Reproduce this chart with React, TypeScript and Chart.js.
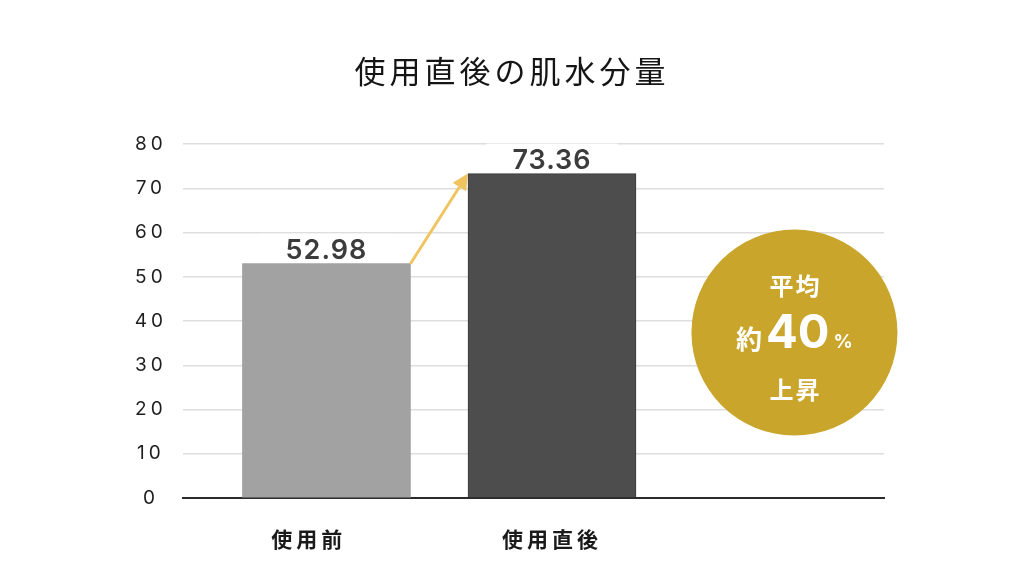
import React, { useEffect, useRef } from 'react';
import { Chart, registerables } from 'chart.js';

Chart.register(...registerables);

// data
const chartTitle = '使用直後の肌水分量';
const categories = ['使用前', '使用直後'];
const values = [52.98, 73.36];
const barColors = ['#a2a2a2', '#4d4d4d'];
const yMin = 0;
const yMax = 80;
const yStep = 10;
const badgeTop = '平均';
const badgePrefix = '約';
const badgeNumber = '40';
const badgeUnit = '%';
const badgeBottom = '上昇';

// layout (x is a linear axis so the bars sit where they do in the picture)
const X_MIN = 0.364;
const X_MAX = 3.472;
const LABEL_POS = [0.922, 2.0];
const BADGE_X = 3.075;
const BADGE_Y = 37.4;
const BADGE_R = 103;

const JP = '"Noto Sans CJK JP", "Noto Sans", sans-serif';
const NUM = 'Inter, "Noto Sans", sans-serif';

const spacing = (ctx: CanvasRenderingContext2D, v: string) => {
    (ctx as any).letterSpacing = v;
};

const decorations = {
    id: 'decorations',
    beforeDraw(chart: any) {
        // tick labels are spaced out in the reference
        spacing(chart.ctx, '4px');
    },
    afterDatasetsDraw(chart: any) {
        const ctx: CanvasRenderingContext2D = chart.ctx;
        const bars = chart.getDatasetMeta(0).data;

        // arrow from the top of the first bar to the top of the second
        if (bars.length > 1) {
            const a = bars[0];
            const b = bars[1];
            const x1 = a.x + a.width / 2;
            const y1 = a.y;
            const x2 = b.x - b.width / 2;
            const y2 = b.y;
            const ang = Math.atan2(y2 - y1, x2 - x1);
            const head = 16;
            const half = 8;
            ctx.save();
            ctx.strokeStyle = '#f1c462';
            ctx.fillStyle = '#f1c462';
            ctx.lineWidth = 3;
            ctx.beginPath();
            ctx.moveTo(x1, y1);
            ctx.lineTo(x2 - Math.cos(ang) * head, y2 - Math.sin(ang) * head);
            ctx.stroke();
            ctx.beginPath();
            ctx.moveTo(x2, y2);
            ctx.lineTo(
                x2 - Math.cos(ang) * head - Math.sin(ang) * half,
                y2 - Math.sin(ang) * head + Math.cos(ang) * half
            );
            ctx.lineTo(
                x2 - Math.cos(ang) * head + Math.sin(ang) * half,
                y2 - Math.sin(ang) * head - Math.cos(ang) * half
            );
            ctx.closePath();
            ctx.fill();
            ctx.restore();
        }

        // value labels on a white box
        ctx.save();
        spacing(ctx, '1px');
        ctx.font = `600 27px ${NUM}`;
        ctx.textAlign = 'center';
        ctx.textBaseline = 'alphabetic';
        bars.forEach((bar: any, i: number) => {
            const txt = values[i].toFixed(2);
            const w = ctx.measureText(txt).width;
            const base = bar.y - 5;
            ctx.fillStyle = '#ffffff';
            ctx.fillRect(bar.x - w / 2 - 26, base - 25, w + 52, 26);
            ctx.fillStyle = '#3c3c3c';
            ctx.fillText(txt, bar.x, base);
        });
        ctx.restore();

        // the title is drawn after this hook (z: 1)
        spacing(ctx, '8.5px');
    },
    afterDraw(chart: any) {
        const ctx: CanvasRenderingContext2D = chart.ctx;
        spacing(ctx, '0px');
        const cx = chart.scales.x.getPixelForValue(BADGE_X);
        const cy = chart.scales.y.getPixelForValue(BADGE_Y);

        ctx.save();
        ctx.fillStyle = '#c9a52b';
        ctx.beginPath();
        ctx.arc(cx, cy, BADGE_R, 0, Math.PI * 2);
        ctx.fill();

        ctx.fillStyle = '#ffffff';
        ctx.textAlign = 'center';
        ctx.textBaseline = 'middle';
        spacing(ctx, '2px');
        ctx.font = `bold 24px ${JP}`;
        ctx.fillText(badgeTop, cx + 1, cy - 47);
        ctx.fillText(badgeBottom, cx + 1, cy + 57);

        // middle row: 約 40 %
        ctx.textAlign = 'left';
        ctx.textBaseline = 'alphabetic';
        spacing(ctx, '0px');
        const fPre = `bold 26px ${JP}`;
        const fNum = `bold 47px ${NUM}`;
        const fUnit = `bold 19px ${NUM}`;
        ctx.font = fPre;
        const wPre = ctx.measureText(badgePrefix).width;
        ctx.font = fNum;
        const wNum = ctx.measureText(badgeNumber).width;
        ctx.font = fUnit;
        const wUnit = ctx.measureText(badgeUnit).width;
        const gap = 4;
        let x = cx - (wPre + wNum + wUnit + gap * 2) / 2;
        const base = cy + 15;
        ctx.font = fPre;
        ctx.fillText(badgePrefix, x, base + 1);
        x += wPre + gap;
        ctx.font = fNum;
        ctx.fillText(badgeNumber, x, base);
        x += wNum + gap;
        ctx.font = fUnit;
        ctx.fillText(badgeUnit, x, base);
        ctx.restore();
    },
};

const App: React.FC = () => {
    const canvasRef = useRef<HTMLCanvasElement>(null);

    useEffect(() => {
        if (!canvasRef.current) return;
        const ctx = canvasRef.current.getContext('2d');
        if (!ctx) return;

        const chart = new Chart(ctx, {
            type: 'bar',
            data: {
                datasets: [{
                    data: values.map((v, i) => ({ x: i + 1, y: v })),
                    backgroundColor: barColors,
                    borderColor: ['#a2a2a2', '#3a3a3a'],
                    borderWidth: [0, 1],
                    barThickness: 168,
                }],
            },
            options: {
                animation: false,
                responsive: true,
                maintainAspectRatio: false,
                layout: { padding: { top: 53, right: 0, bottom: 0, left: 0 } },
                plugins: {
                    legend: { display: false },
                    tooltip: { enabled: false },
                    title: {
                        display: true,
                        text: chartTitle,
                        color: '#151515',
                        font: { family: JP, size: 31, weight: 'normal', lineHeight: 1.2 },
                        padding: { top: 0, bottom: 54 },
                        // drawn after the datasets so it can get its own letter spacing
                        z: 1,
                    } as any,
                },
                scales: {
                    x: {
                        type: 'linear',
                        offset: false,
                        min: X_MIN,
                        max: X_MAX,
                        grid: { display: false, drawTicks: false, offset: false },
                        border: { display: true, color: '#2b2b2b', width: 2 },
                        afterBuildTicks: (axis: any) => {
                            axis.ticks = LABEL_POS.map((v) => ({ value: v }));
                        },
                        afterFit: (axis: any) => {
                            axis.height = 90;
                        },
                        ticks: {
                            autoSkip: false,
                            maxRotation: 0,
                            padding: 28,
                            color: '#1a1a1a',
                            font: { family: JP, size: 21, weight: 'bold' },
                            callback: (_v: any, i: number) => categories[i] ?? '',
                        },
                    },
                    y: {
                        min: yMin,
                        max: yMax,
                        grid: { color: '#dedede', lineWidth: 1.5, drawTicks: false },
                        border: { display: false },
                        afterFit: (axis: any) => {
                            axis.width = 183;
                        },
                        ticks: {
                            stepSize: yStep,
                            padding: 20,
                            crossAlign: 'center',
                            color: '#1e1e1e',
                            font: { family: NUM, size: 19, weight: 'normal' },
                        },
                    },
                    // empty right-hand box: keeps room for the badge without shifting the title
                    side: {
                        position: 'right',
                        grid: { display: false, drawTicks: false },
                        border: { display: false },
                        ticks: { display: false },
                        afterFit: (axis: any) => {
                            axis.width = 140;
                        },
                    },
                },
            },
            plugins: [decorations],
        });

        return () => {
            chart.destroy();
        };
    }, []);

    return (
        <div style={{ position: 'absolute', left: 0, top: 0, width: 1024, height: 588, background: '#ffffff' }}>
            <canvas ref={canvasRef}></canvas>
        </div>
    );
};

export default App;
